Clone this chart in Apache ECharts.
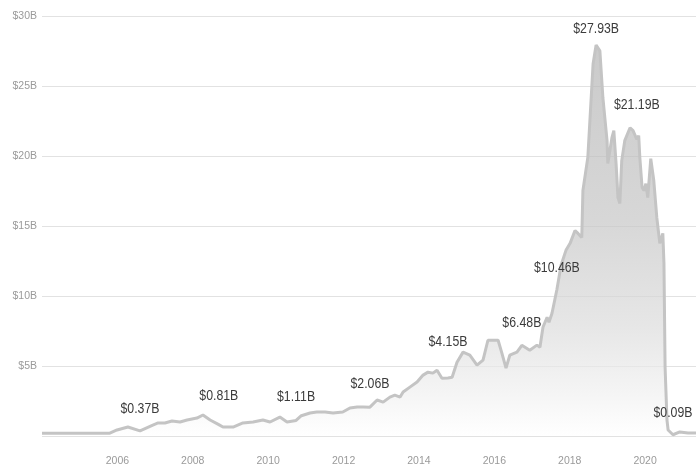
<!DOCTYPE html>
<html>
<head>
<meta charset="utf-8">
<title>Value over time</title>
<script src="https://cdn.jsdelivr.net/npm/echarts@6/dist/echarts.min.js"></script>
<style>
  html, body { margin: 0; padding: 0; background: #fff; }
  #chart { width: 696px; height: 467px; }
</style>
</head>
<body>
<div id="chart"></div>
<script>
// Time in decimal years
const years = [
  2004.00, 2004.60, 2005.20, 2005.80, 2005.99, 2006.28, 2006.60, 2006.94, 2007.08, 2007.26,
  2007.45, 2007.66, 2007.85, 2008.11, 2008.27, 2008.46, 2008.69, 2008.80, 2009.07, 2009.33,
  2009.60, 2009.86, 2010.05, 2010.31, 2010.50, 2010.74, 2010.88, 2011.11, 2011.29, 2011.51,
  2011.72, 2011.98, 2012.17, 2012.36, 2012.52, 2012.70, 2012.89, 2013.05, 2013.23, 2013.36,
  2013.50, 2013.58, 2013.76, 2013.95, 2014.11, 2014.24, 2014.37, 2014.48, 2014.61, 2014.77,
  2014.88, 2015.01, 2015.17, 2015.35, 2015.54, 2015.70, 2015.83, 2016.10, 2016.20, 2016.31,
  2016.41, 2016.60, 2016.73, 2016.94, 2017.13, 2017.21, 2017.29, 2017.40, 2017.45, 2017.53,
  2017.66, 2017.77, 2017.90, 2018.01, 2018.14, 2018.22, 2018.32, 2018.35, 2018.48, 2018.62,
  2018.70, 2018.80, 2018.88, 2018.99, 2019.01, 2019.12, 2019.17, 2019.23, 2019.28, 2019.33,
  2019.38, 2019.46, 2019.60, 2019.68, 2019.78, 2019.83, 2019.86, 2019.92, 2019.97, 2020.02,
  2020.07, 2020.15, 2020.23, 2020.31, 2020.39, 2020.47, 2020.50, 2020.53, 2020.58, 2020.61,
  2020.74, 2020.92, 2021.14, 2021.35
];

// Value in billions of dollars
const values = [
  0.20, 0.20, 0.20, 0.20, 0.43, 0.64, 0.37, 0.78, 0.93, 0.93,
  1.07, 1.00, 1.14, 1.28, 1.50, 1.14, 0.81, 0.64, 0.64, 0.93,
  1.00, 1.14, 1.00, 1.35, 1.00, 1.11, 1.45, 1.64, 1.71, 1.71,
  1.64, 1.71, 2.00, 2.07, 2.07, 2.06, 2.57, 2.42, 2.78, 2.92,
  2.78, 3.14, 3.49, 3.85, 4.35, 4.56, 4.49, 4.70, 4.13, 4.15,
  4.20, 5.27, 5.99, 5.77, 5.06, 5.42, 6.84, 6.84, 5.92, 4.85,
  5.77, 5.99, 6.48, 6.13, 6.49, 6.34, 7.77, 8.48, 8.13, 8.77,
  10.46, 12.19, 13.26, 13.76, 14.68, 14.47, 14.18, 17.53, 19.89, 26.59,
  27.93, 27.51, 24.16, 21.10, 19.46, 21.31, 21.81, 19.46, 17.03, 16.61,
  19.67, 21.10, 22.02, 21.81, 21.19, 21.45, 19.89, 17.75, 17.53, 18.03,
  17.03, 19.81, 18.25, 15.61, 13.76, 14.47, 12.33, 4.92, 1.14, 0.43,
  0.09, 0.29, 0.21, 0.21
];

// Points that carry a value callout
const callouts = [2006.60, 2008.69, 2010.74, 2012.70, 2014.77, 2016.73, 2017.66, 2018.70, 2019.78, 2020.74];

// Axis ticks
const yTicks = [0, 5, 10, 15, 20, 25, 30];
const xTickYears = [2006, 2008, 2010, 2012, 2014, 2016, 2018, 2020];

// Gap between each callout's baseline and its point (px), in callout order
const calloutGap = [14, 21, 16, 16, 29, 15, 14, 9, 27, 14];

const fontFamily = "'Liberation Sans Narrow', 'Liberation Sans', Arial, sans-serif";
const fmtB = v => '$' + v.toFixed(2) + 'B';

const lineData = years.map((yr, i) => [yr, values[i]]);
const calloutData = callouts.map(yr => [yr, values[years.indexOf(yr)]]);

const chart = echarts.init(document.getElementById('chart'), null, { renderer: 'canvas' });

chart.setOption({
  animation: false,
  backgroundColor: '#ffffff',
  grid: { left: 42, right: 0, top: 16, bottom: 31, containLabel: false },
  xAxis: {
    type: 'value',
    min: 2004,
    max: 2021.35,
    interval: 2,
    axisLine: { show: false },
    axisTick: { show: false },
    splitLine: { show: false },
    axisLabel: {
      margin: 20,
      color: '#9a9a9a',
      fontSize: 10.5,
      fontFamily: fontFamily,
      showMaxLabel: false,
      formatter: v => {
        const r = Math.round(v);
        return (Math.abs(v - r) < 1e-6 && xTickYears.indexOf(r) >= 0) ? String(r) : '';
      }
    }
  },
  yAxis: {
    type: 'value',
    min: yTicks[0],
    max: yTicks[yTicks.length - 1],
    interval: 5,
    z: 3,
    axisLine: { show: false },
    axisTick: { show: false },
    splitLine: {
      show: true,
      lineStyle: { color: '#e2e2e2', width: 1 }
    },
    axisLabel: {
      margin: 5,
      color: '#9a9a9a',
      fontSize: 10.5,
      fontFamily: fontFamily,
      formatter: v => (v === 0 ? '' : '$' + v + 'B')
    }
  },
  series: [{
    type: 'line',
    data: lineData,
    showSymbol: false,
    symbol: 'none',
    smooth: false,
    lineStyle: { color: '#c4c4c4', width: 3 },
    areaStyle: {
      color: {
        type: 'linear', x: 0, y: 0, x2: 0, y2: 1,
        colorStops: [
          { offset: 0, color: '#b4b4b4' },
          { offset: 0.45, color: '#c6c6c6' },
          { offset: 0.72, color: '#dcdcdc' },
          { offset: 0.88, color: '#efefef' },
          { offset: 1, color: '#ffffff' }
        ]
      }
    }
  }, {
    // value callouts above selected points, slightly condensed
    type: 'custom',
    z: 5,
    data: calloutData,
    renderItem: (params, api) => {
      const pt = api.coord([api.value(0), api.value(1)]);
      return {
        type: 'text',
        x: pt[0],
        y: pt[1] - calloutGap[params.dataIndex],
        scaleX: 0.82,
        style: {
          text: fmtB(api.value(1)),
          fill: '#3b3b3b',
          font: '15px ' + fontFamily,
          align: 'center',
          verticalAlign: 'bottom'
        }
      };
    }
  }]
});
</script>
</body>
</html>
